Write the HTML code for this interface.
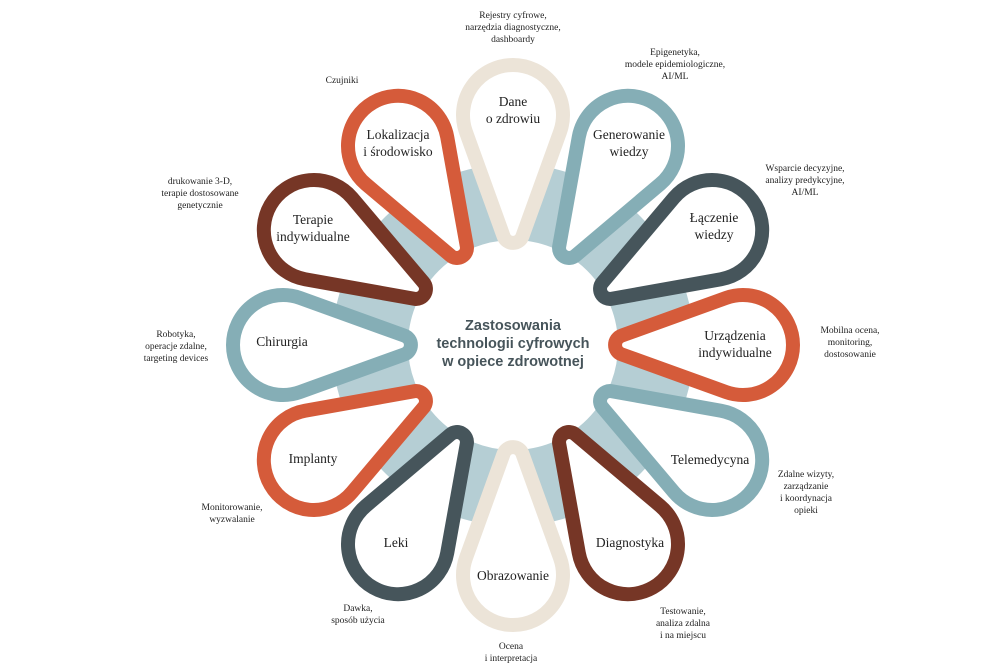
<!DOCTYPE html>
<html><head><meta charset="utf-8"><style>
html,body{margin:0;padding:0;background:#fff;}
svg{display:block;}
.l{font-family:"Liberation Serif",serif;font-size:13.5px;fill:#222;text-anchor:middle;}
.a{font-family:"Liberation Serif",serif;font-size:9.5px;fill:#222;text-anchor:middle;}
.c{font-family:"Liberation Sans",sans-serif;font-size:14.5px;font-weight:bold;fill:#46545A;text-anchor:middle;}
</style></head><body>
<svg width="991" height="672" viewBox="0 0 991 672" xmlns="http://www.w3.org/2000/svg">
<defs>
<path id="t" d="M-9.43 -108.75 A10 10 0 0 0 9.43 -108.75 L47.04 -213.05 A50 50 0 1 0 -47.04 -213.05 Z" fill="#fff" stroke-width="14" stroke-linejoin="round"/>
</defs>
<circle cx="513" cy="345" r="143" fill="none" stroke="#B5CED4" stroke-width="76"/>
<g transform="translate(513 345)">
<use href="#t" transform="rotate(0)" stroke="#ECE4D8"/>
<use href="#t" transform="rotate(30)" stroke="#85AEB6"/>
<use href="#t" transform="rotate(60)" stroke="#46555B"/>
<use href="#t" transform="rotate(90)" stroke="#D55B3A"/>
<use href="#t" transform="rotate(120)" stroke="#85AEB6"/>
<use href="#t" transform="rotate(150)" stroke="#763626"/>
<use href="#t" transform="rotate(180)" stroke="#ECE4D8"/>
<use href="#t" transform="rotate(210)" stroke="#46555B"/>
<use href="#t" transform="rotate(240)" stroke="#D55B3A"/>
<use href="#t" transform="rotate(270)" stroke="#85AEB6"/>
<use href="#t" transform="rotate(300)" stroke="#763626"/>
<use href="#t" transform="rotate(330)" stroke="#D55B3A"/>
</g>
<text class="c" x="513" y="330">Zastosowania</text>
<text class="c" x="513" y="348">technologii cyfrowych</text>
<text class="c" x="513" y="366">w opiece zdrowotnej</text>

<text class="l" x="513" y="106">Dane</text><text class="l" x="513" y="123">o zdrowiu</text>
<text class="l" x="629" y="139">Generowanie</text><text class="l" x="629" y="156">wiedzy</text>
<text class="l" x="714" y="222">Łączenie</text><text class="l" x="714" y="239">wiedzy</text>
<text class="l" x="735" y="340">Urządzenia</text><text class="l" x="735" y="357">indywidualne</text>
<text class="l" x="710" y="464">Telemedycyna</text>
<text class="l" x="630" y="547">Diagnostyka</text>
<text class="l" x="513" y="580">Obrazowanie</text>
<text class="l" x="396" y="547">Leki</text>
<text class="l" x="313" y="463">Implanty</text>
<text class="l" x="282" y="346">Chirurgia</text>
<text class="l" x="313" y="224">Terapie</text><text class="l" x="313" y="241">indywidualne</text>
<text class="l" x="398" y="139">Lokalizacja</text><text class="l" x="398" y="156">i środowisko</text>

<text class="a" x="513" y="18">Rejestry cyfrowe,</text><text class="a" x="513" y="30">narzędzia diagnostyczne,</text><text class="a" x="513" y="42">dashboardy</text>
<text class="a" x="675" y="55">Epigenetyka,</text><text class="a" x="675" y="67">modele epidemiologiczne,</text><text class="a" x="675" y="79">AI/ML</text>
<text class="a" x="805" y="171">Wsparcie decyzyjne,</text><text class="a" x="805" y="183">analizy predykcyjne,</text><text class="a" x="805" y="195">AI/ML</text>
<text class="a" x="850" y="333">Mobilna ocena,</text><text class="a" x="850" y="345">monitoring,</text><text class="a" x="850" y="357">dostosowanie</text>
<text class="a" x="806" y="477">Zdalne wizyty,</text><text class="a" x="806" y="489">zarządzanie</text><text class="a" x="806" y="501">i koordynacja</text><text class="a" x="806" y="513">opieki</text>
<text class="a" x="683" y="614">Testowanie,</text><text class="a" x="683" y="626">analiza zdalna</text><text class="a" x="683" y="638">i na miejscu</text>
<text class="a" x="511" y="649">Ocena</text><text class="a" x="511" y="661">i interpretacja</text>
<text class="a" x="358" y="611">Dawka,</text><text class="a" x="358" y="623">sposób użycia</text>
<text class="a" x="232" y="510">Monitorowanie,</text><text class="a" x="232" y="522">wyzwalanie</text>
<text class="a" x="176" y="337">Robotyka,</text><text class="a" x="176" y="349">operacje zdalne,</text><text class="a" x="176" y="361">targeting devices</text>
<text class="a" x="200" y="184">drukowanie 3-D,</text><text class="a" x="200" y="196">terapie dostosowane</text><text class="a" x="200" y="208">genetycznie</text>
<text class="a" x="342" y="83">Czujniki</text>
</svg>
</body></html>
